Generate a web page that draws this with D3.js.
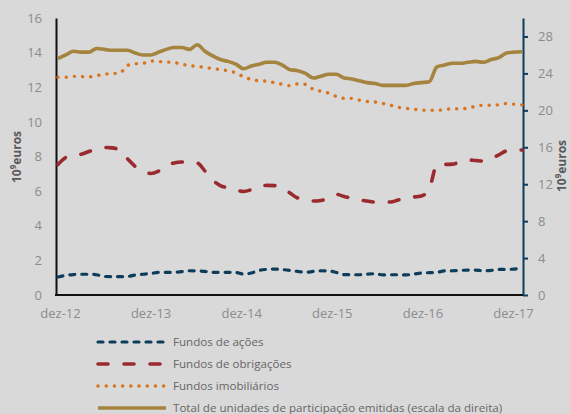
<!DOCTYPE html>
<html>
<head>
<meta charset="utf-8">
<script src="https://cdn.jsdelivr.net/npm/d3@7"></script>
<style>
  body { margin: 0; background: #d9d9d9; }
  svg { display: block; font-family: "Open Sans", sans-serif; }
</style>
</head>
<body>
<div id="chart"></div>
<script>
// monthly, dez-12 .. dez-17
const xLabels = ["dez-12", "dez-13", "dez-14", "dez-15", "dez-16", "dez-17"];

const acoes = [1.04, 1.13, 1.18, 1.2, 1.2, 1.17, 1.07, 1.06, 1.06, 1.07, 1.16, 1.2,
  1.24, 1.31, 1.31, 1.31, 1.35, 1.4, 1.39, 1.36, 1.31, 1.31, 1.31, 1.3,
  1.21, 1.27, 1.42, 1.48, 1.5, 1.47, 1.42, 1.36, 1.31, 1.36, 1.4, 1.39,
  1.3, 1.18, 1.17, 1.17, 1.21, 1.23, 1.16, 1.17, 1.17, 1.16, 1.21, 1.27,
  1.29, 1.31, 1.39, 1.4, 1.42, 1.44, 1.44, 1.4, 1.42, 1.48, 1.48, 1.5, 1.54];

const obrigacoes = [7.54, 7.94, 8.06, 8.13, 8.29, 8.41, 8.52, 8.5, 8.34, 7.86, 7.42, 7.16,
  7.02, 7.16, 7.45, 7.63, 7.68, 7.68, 7.63, 7.16, 6.64, 6.32, 6.18, 6.07,
  5.98, 6.09, 6.3, 6.33, 6.32, 6.18, 5.89, 5.6, 5.51, 5.43, 5.46, 5.6,
  5.81, 5.69, 5.59, 5.49, 5.43, 5.37, 5.37, 5.37, 5.49, 5.59, 5.66, 5.72,
  6.12, 7.51, 7.54, 7.56, 7.68, 7.8, 7.77, 7.74, 7.89, 8.09, 8.32, 8.35, 8.38];

const imobiliarios = [12.58, 12.58, 12.63, 12.62, 12.6, 12.67, 12.76, 12.79, 12.83, 13.26, 13.36, 13.38,
  13.52, 13.49, 13.46, 13.43, 13.33, 13.25, 13.21, 13.14, 13.08, 13.02, 12.95, 12.83,
  12.6, 12.45, 12.37, 12.35, 12.26, 12.17, 12.09, 12.19, 12.17, 11.88, 11.77, 11.66,
  11.47, 11.36, 11.36, 11.25, 11.18, 11.15, 11.06, 10.96, 10.84, 10.78, 10.73, 10.69,
  10.67, 10.67, 10.71, 10.76, 10.76, 10.79, 10.9, 10.96, 10.96, 10.99, 11.06, 11.02, 10.98];

const totalUP = [25.6, 26.0, 26.4, 26.3, 26.3, 26.7, 26.6, 26.5, 26.5, 26.5, 26.2, 26.0,
  26.0, 26.3, 26.6, 26.8, 26.8, 26.6, 27.1, 26.4, 25.9, 25.5, 25.3, 25.0,
  24.5, 24.8, 25.0, 25.2, 25.2, 24.9, 24.4, 24.3, 24.0, 23.5, 23.7, 23.9,
  23.9, 23.5, 23.4, 23.2, 23.0, 22.9, 22.7, 22.7, 22.7, 22.7, 22.9, 23.0,
  23.1, 24.7, 24.9, 25.1, 25.1, 25.2, 25.3, 25.2, 25.5, 25.7, 26.2, 26.3, 26.35];

const leftTicks = [0, 2, 4, 6, 8, 10, 12, 14, 16];
const rightTicks = [0, 4, 8, 12, 16, 20, 24, 28];

const series = [
  { name: "Fundos de ações", values: acoes, axis: "left", color: "#0e3d5b", width: 3.2, dash: "5,7" },
  { name: "Fundos de obrigações", values: obrigacoes, axis: "left", color: "#9b2a2f", width: 3.6, dash: "10,16" },
  { name: "Fundos imobiliários", values: imobiliarios, axis: "left", color: "#d9731d", width: 3.4, dash: "0.1,8.1" },
  { name: "Total de unidades de participação emitidas (escala da direita)", values: totalUP, axis: "right", color: "#a5843f", width: 3.6, dash: null }
];

const W = 570, H = 414;
const plotL = 56, plotR = 523, plotT = 18, plotB = 295;

const svg = d3.select("#chart").append("svg")
  .attr("width", W).attr("height", H);

const x = d3.scaleLinear().domain([0, acoes.length - 1]).range([plotL + 2, plotR - 1]);
const xLab = d3.scalePoint().domain(xLabels).range([60, 513]);
const yL = d3.scaleLinear().domain([0, 16]).range([plotB, plotT]);
const yR = d3.scaleLinear().domain([0, 30]).range([plotB, plotT]);

// left axis
const gL = svg.append("g")
  .attr("transform", `translate(${plotL},0)`)
  .call(d3.axisLeft(yL).tickValues(leftTicks).tickSize(0).tickPadding(14));
gL.select(".domain").attr("stroke", "#111").attr("stroke-width", 2);
gL.selectAll("text").attr("fill", "#8c8c8c").attr("font-size", 13).attr("font-family", "Open Sans");

// right axis
const gR = svg.append("g")
  .attr("transform", `translate(${plotR},0)`)
  .call(d3.axisRight(yR).tickValues(rightTicks).tickSizeInner(5).tickSizeOuter(0).tickPadding(10));
gR.select(".domain").attr("stroke", "#0e3d5b").attr("stroke-width", 2);
gR.selectAll(".tick line").attr("stroke", "#0e3d5b").attr("stroke-width", 2);
gR.selectAll("text").attr("fill", "#8c8c8c").attr("font-size", 13).attr("font-family", "Open Sans");

// x axis labels
const gX = svg.append("g")
  .attr("transform", `translate(0,${plotB})`)
  .call(d3.axisBottom(xLab).tickSize(0).tickPadding(14));
gX.select(".domain").remove();
gX.selectAll("text").attr("fill", "#8c8c8c").attr("font-size", 13).attr("font-family", "Open Sans");

svg.append("line")
  .attr("x1", plotL - 1).attr("x2", plotR)
  .attr("y1", plotB).attr("y2", plotB)
  .attr("stroke", "#111").attr("stroke-width", 2);

// axis titles
function axisTitle(cx, cy) {
  const t = svg.append("text")
    .attr("transform", `translate(${cx},${cy}) rotate(-90)`)
    .attr("text-anchor", "middle")
    .attr("font-size", 12).attr("font-weight", "bold")
    .attr("fill", "#595959");
  t.append("tspan").text("10");
  t.append("tspan").attr("dy", -5).attr("font-size", 8).text("9");
  t.append("tspan").attr("dy", 5).text("euros");
}
axisTitle(21, 157);
axisTitle(566, 166);

// lines
series.forEach(s => {
  const y = s.axis === "left" ? yL : yR;
  const line = d3.line()
    .x((d, i) => x(i))
    .y(d => y(d))
    .curve(d3.curveMonotoneX);
  svg.append("path")
    .datum(s.values)
    .attr("fill", "none")
    .attr("stroke", s.color)
    .attr("stroke-width", s.width)
    .attr("stroke-linecap", s.dash ? "round" : "butt")
    .attr("stroke-linejoin", "round")
    .attr("stroke-dasharray", s.dash)
    .attr("d", line);
});

// legend
const leg = svg.append("g").attr("transform", "translate(97,342)");
series.forEach((s, i) => {
  const row = leg.append("g").attr("transform", `translate(0,${i * 22})`);
  row.append("line")
    .attr("x1", 1).attr("x2", 69)
    .attr("stroke", s.color)
    .attr("stroke-width", s.width)
    .attr("stroke-linecap", s.dash ? "round" : "butt")
    .attr("stroke-dasharray", s.dash);
  row.append("text")
    .attr("x", 76).attr("y", 4)
    .attr("font-size", 11.6)
    .attr("fill", "#666666")
    .text(s.name);
});
</script>
</body>
</html>
